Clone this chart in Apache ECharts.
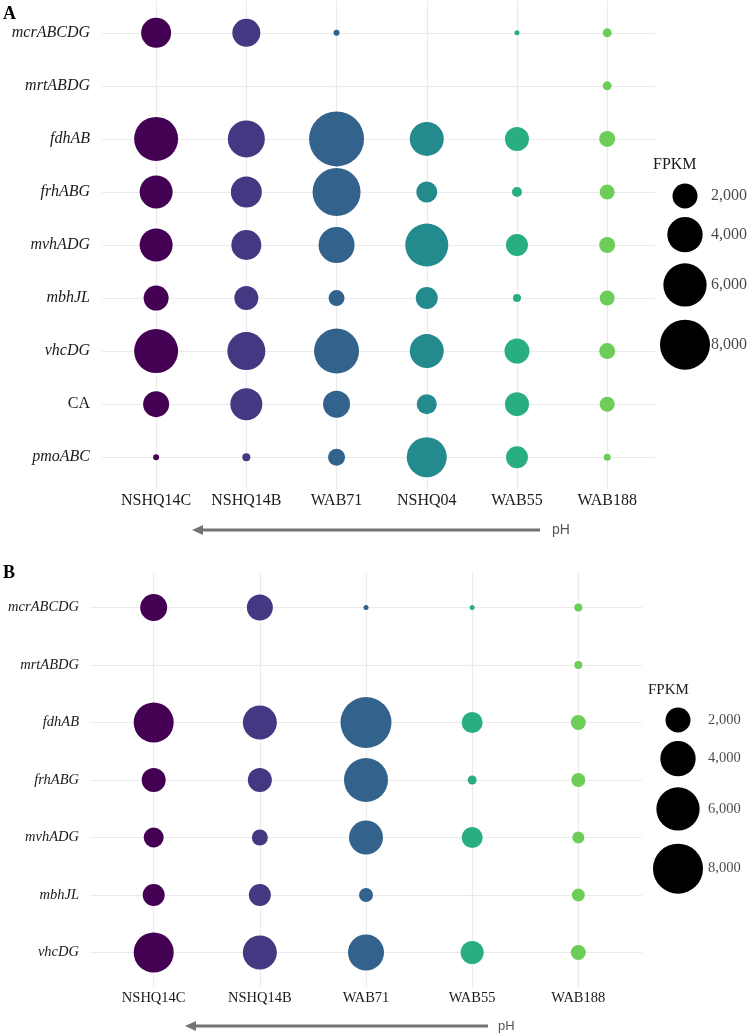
<!DOCTYPE html>
<html><head><meta charset="utf-8">
<script src="https://cdn.jsdelivr.net/npm/echarts@6/dist/echarts.min.js"></script>
<style>html,body{margin:0;padding:0;background:#fff}#c{width:750px;height:1033px}</style>
</head><body><div id="c"></div>
<script>
// ---------- data ----------
const genesA = ['mcrABCDG','mrtABDG','fdhAB','frhABG','mvhADG','mbhJL','vhcDG','CA','pmoABC'];
const samplesA = ['NSHQ14C','NSHQ14B','WAB71','NSHQ04','WAB55','WAB188'];
const a_NSHQ14C = [2880, null, 6195, 3485, 3485, 2000, 6195, 2163, 115];
const a_NSHQ14B = [2509, null, 4381, 3075, 2880, 1843, 4621, 3277, 205];
const a_WAB71   = [115,  null, 9680, 7373, 4147, 819,  6480, 2333, 925];
const a_NSHQ04  = [null, null, 3699, 1411, 5917, 1549, 3699, 1280, 5120];
const a_WAB55   = [80,   null, 1843, 320,  1549, 205,  2000, 1843, 1549];
const a_WAB188  = [259,  259,  819,  720,  819,  720,  819,  720,  157];

const genesB = ['mcrABCDG','mrtABDG','fdhAB','frhABG','mvhADG','mbhJL','vhcDG'];
const samplesB = ['NSHQ14C','NSHQ14B','WAB71','WAB55','WAB188'];
const b_NSHQ14C = [2333, null, 5120, 1843, 1280, 1549, 5120];
const b_NSHQ14B = [2163, null, 3699, 1843, 819,  1549, 3699];
const b_WAB71   = [80,   null, 8323, 6195, 3699, 627,  4147];
const b_WAB55   = [80,   null, 1411, 259,  1411, null, 1693];
const b_WAB188  = [205,  205,  720,  627,  461,  541,  720];

const legendValues = [2000, 4000, 6000, 8000];
const uprightGenes = ['CA'];

// ---------- styles ----------
const paletteA = ['#440154','#453781','#33638D','#238A8D','#29AF7F','#6DCD59'];
const paletteB = ['#440154','#453781','#33638D','#29AF7F','#6DCD59'];
const valuesA = [a_NSHQ14C, a_NSHQ14B, a_WAB71, a_NSHQ04, a_WAB55, a_WAB188];
const valuesB = [b_NSHQ14C, b_NSHQ14B, b_WAB71, b_WAB55, b_WAB188];

const SERIF = "'Liberation Serif', 'DejaVu Serif', serif";
const SANS = "'Liberation Sans', Arial, sans-serif";
const GRIDC = '#ebebeb';
const sizeOf = v => 25 * Math.sqrt(v / 2000);

function idx(n){ return Array.from({length:n}, (_, i) => i); }
function fmt(v){ return v.toLocaleString('en-US'); }

// legend key layout (stacked keys as in ggplot)
const keyH = legendValues.map(v => 1.28 * sizeOf(v));
const keyPos = keyH.map((h, i) => keyH.slice(0, i).reduce((s, x) => s + x, 0) + h / 2);
const keyTotal = keyH.reduce((s, x) => s + x, 0);

function geneLabel(genes){
  return function(val){
    const g = genes[Math.round(val)];
    if (g === undefined) return '';
    return uprightGenes.includes(g) ? '{n|' + g + '}' : '{i|' + g + '}';
  };
}

function mainAxes(genes, samples, gi, xmax, fs, ymargin, xmargin){
  const xs = idx(samples.length), ys = idx(genes.length);
  const x = {
    type: 'value', gridIndex: gi, min: -0.6, max: xmax,
    axisLine: {show: false}, axisTick: {show: false, customValues: xs},
    axisLabel: {customValues: xs, margin: xmargin, color: '#1a1a1a', fontFamily: SERIF, fontSize: fs,
      formatter: v => samples[Math.round(v)] || ''},
    splitLine: {show: true, lineStyle: {color: GRIDC, width: 1.2}}
  };
  const y = {
    type: 'value', gridIndex: gi, min: -0.6, max: genes.length - 1 + 0.6, inverse: true,
    axisLine: {show: false}, axisTick: {show: false, customValues: ys},
    axisLabel: {customValues: ys, margin: ymargin, formatter: geneLabel(genes),
      rich: {
        i: {fontFamily: SERIF, fontStyle: 'italic', fontSize: fs, color: '#1a1a1a'},
        n: {fontFamily: SERIF, fontSize: fs, color: '#1a1a1a'}
      }},
    splitLine: {show: true, lineStyle: {color: GRIDC, width: 1.2}}
  };
  return [x, y];
}

function legendAxes(gi){
  return [
    {type: 'value', gridIndex: gi, min: 0, max: 1, show: false},
    {type: 'value', gridIndex: gi, min: 0, max: keyTotal, inverse: true, show: false}
  ];
}

const grids = [
  {left: 102, top: 1, width: 553, height: 488},
  {left: 685, top: 180, width: 26, height: keyTotal},
  {left: 90, top: 573, width: 552, height: 414},
  {left: 678, top: 704, width: 30, height: keyTotal}
];

const [xA, yA] = mainAxes(genesA, samplesA, 0, 5.53, 16, 12, 4);
const [xB, yB] = mainAxes(genesB, samplesB, 2, 4.6, 14.5, 11, 4);
const [xLA, yLA] = legendAxes(1);
const [xLB, yLB] = legendAxes(3);

const series = [];
function addMain(values, palette, axisIdx){
  values.forEach((arr, i) => {
    series.push({
      type: 'scatter', xAxisIndex: axisIdx, yAxisIndex: axisIdx,
      symbol: 'circle', symbolSize: d => sizeOf(d[2]),
      itemStyle: {color: palette[i], opacity: 1},
      emphasis: {disabled: true}, silent: true,
      data: arr.map((v, j) => v == null ? null : [i, j, v]).filter(d => d)
    });
  });
}
addMain(valuesA, paletteA, 0);
addMain(valuesB, paletteB, 2);

function addLegend(axisIdx, fs){
  series.push({
    type: 'scatter', xAxisIndex: axisIdx, yAxisIndex: axisIdx, silent: true,
    symbol: 'circle', symbolSize: d => sizeOf(d[2]), itemStyle: {color: '#000', opacity: 1},
    emphasis: {disabled: true},
    data: legendValues.map((v, i) => [0, keyPos[i], v])
  });
  series.push({
    type: 'scatter', xAxisIndex: axisIdx, yAxisIndex: axisIdx, silent: true,
    symbolSize: 0.01, itemStyle: {color: 'transparent'},
    label: {show: true, position: 'right', distance: 0, fontFamily: SERIF, fontSize: fs, color: '#1a1a1a',
      formatter: p => fmt(p.data[2])},
    data: legendValues.map((v, i) => [1, keyPos[i], v])
  });
}
addLegend(1, 16);
addLegend(3, 14.5);

function arrow(x1, x2, y, tx, fs){
  return [
    {type: 'line', shape: {x1: x1 + 8, y1: y, x2: x2, y2: y}, style: {stroke: '#737373', lineWidth: 3}},
    {type: 'polygon', shape: {points: [[x1, y], [x1 + 11, y - 5], [x1 + 11, y + 5]]}, style: {fill: '#737373'}},
    {type: 'text', x: tx, y: y, style: {text: 'pH', fill: '#555', font: fs + 'px ' + SANS, textVerticalAlign: 'middle'}}
  ];
}

const option = {
  animation: false,
  backgroundColor: '#fff',
  grid: grids,
  xAxis: [xA, xLA, xB, xLB],
  yAxis: [yA, yLA, yB, yLB],
  series: series,
  graphic: [
    {type: 'text', x: 3, y: 14, style: {text: 'A', fill: '#000', font: 'bold 18px ' + SERIF, textVerticalAlign: 'middle'}},
    {type: 'text', x: 3, y: 573, style: {text: 'B', fill: '#000', font: 'bold 18px ' + SERIF, textVerticalAlign: 'middle'}},
    {type: 'text', x: 653, y: 165, style: {text: 'FPKM', fill: '#1a1a1a', font: '16px ' + SERIF, textVerticalAlign: 'middle'}},
    {type: 'text', x: 648, y: 690, style: {text: 'FPKM', fill: '#1a1a1a', font: '15px ' + SERIF, textVerticalAlign: 'middle'}},
    ...arrow(192, 540, 530, 552, 14),
    ...arrow(185, 488, 1026, 498, 13)
  ]
};

const chart = echarts.init(document.getElementById('c'), null, {renderer: 'canvas'});
chart.setOption(option);
</script>
</body></html>
